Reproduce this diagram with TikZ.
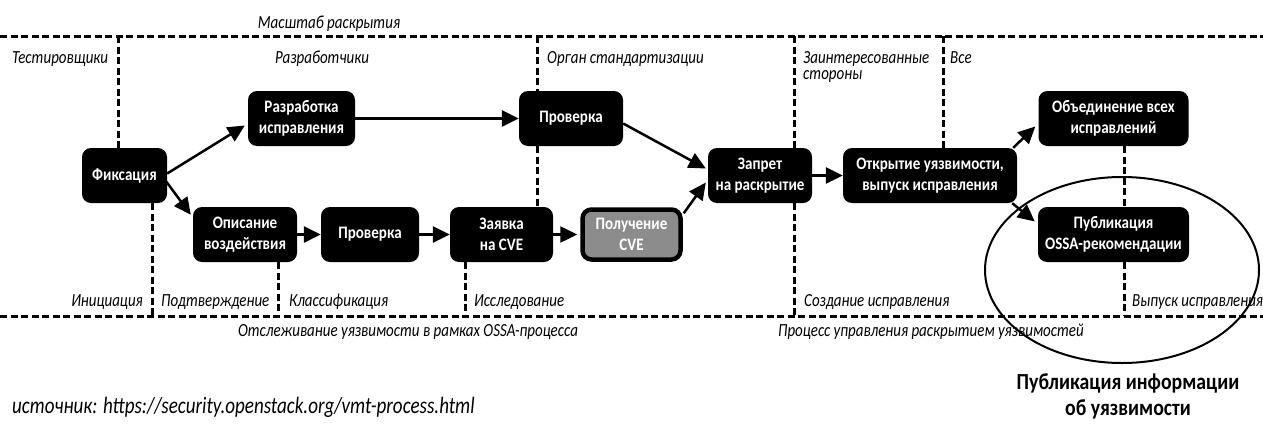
\documentclass[tikz,border=0pt]{standalone}
\usepackage{fontspec}
\setmainfont{Carlito}
\newfontfamily\labfont{Carlito}[FakeStretch=0.81]
\newfontfamily\boxfont{Carlito}[FakeStretch=0.86]
\usetikzlibrary{arrows.meta,calc}
\tikzset{
  procbox/.style={rounded corners=9pt, fill=black, text=white, align=center,
    font=\boxfont\bfseries\fontsize{17.5}{21}\selectfont, inner sep=0pt, minimum height=55pt},
  graybox/.style={procbox, fill=black!45, draw=black, line width=4.5pt},
  arr/.style={-{Triangle[length=17pt,width=16pt]}, line width=2.5pt},
  dl/.style={line width=3pt, dash pattern=on 7pt off 3.5pt},
  lab/.style={font=\labfont\itshape\fontsize{18.5}{16}\selectfont, inner sep=0pt},
}
\begin{document}
\begin{tikzpicture}[x=1pt,y=-1pt]
\useasboundingbox (0,0) rectangle (1263,423);
% boxes
\node[procbox, minimum width=85pt]  (fix)    at (124.5,175.5) {Фиксация};
\node[procbox, minimum width=107pt] (raz)    at (301.5,118.5) {Разработка\\исправления};
\node[procbox, minimum width=104pt] (opis)   at (245,234.5) {Описание\\воздействия};
\node[procbox, minimum width=98pt]  (prov2)  at (370,234.5) {Проверка};
\node[procbox, minimum width=103pt] (zay)    at (501.5,234.5) {Заявка\\на CVE};
\node[graybox, minimum width=98pt, minimum height=50pt] (poluch) at (631.5,234.5) {Получение\\CVE};
\node[procbox, minimum width=104pt] (prov1)  at (571,118.5) {Проверка};
\node[procbox, minimum width=104pt] (zap)    at (760,175.5) {Запрет\\на раскрытие};
\node[procbox, minimum width=174pt] (otk)    at (930,175.5) {Открытие уязвимости,\\выпуск исправления};
\node[procbox, minimum width=150pt] (obj)    at (1113.5,118.5) {Объединение всех\\исправлений};
\node[procbox, minimum width=151pt] (pub)    at (1113.5,234.5) {Публикация\\OSSA-рекомендации};
% dashed frame lines
\coordinate (tl) at (0,36);   \coordinate (tr) at (1263,36);
\coordinate (bl) at (0,316);  \coordinate (br) at (1263,316);
\draw[dl] (tl) -- (tr);
\draw[dl] (bl) -- (br);
\coordinate (t1) at (118,36);
\coordinate (t2) at (537,36);
\coordinate (t3) at (794,36);
\coordinate (t4) at (943,36);
\coordinate (b1) at (152,316);
\coordinate (b2) at (278,316);
\coordinate (b3) at (465,316);
\coordinate (b4) at (794,316);
\coordinate (b5) at (1124,316);
\draw[dl] (t1) -- (t1 |- fix.north);
\draw[dl] (t2) -- (t2 |- prov1.north);
\draw[dl] (t2 |- prov1.south) -- (t2 |- zay.north);
\draw[dl] (t3) -- (t3 |- zap.north);
\draw[dl] (t4) -- (t4 |- otk.north);
\draw[dl] (b1 |- fix.south) -- (b1);
\draw[dl] (b2 |- opis.south) -- (b2);
\draw[dl] (b3 |- zay.south) -- (b3);
\draw[dl] (b4 |- zap.south) -- (b4);
\draw[dl] (b5 |- obj.south) -- (b5 |- pub.north);
\draw[dl] (b5 |- pub.south) -- (b5);
% arrows
\draw[arr] ([yshift=2pt]fix.east) -- ([xshift=-3pt,yshift=-7pt]raz.west);
\draw[arr] ([xshift=-1pt,yshift=-6pt]fix.east) -- ([xshift=-2pt,yshift=-8pt]opis.north west);
\draw[arr] (raz.east) -- (prov1.west);
\draw[arr] ([yshift=-5pt]prov1.east) -- ([xshift=-2pt,yshift=7pt]zap.west);
\draw[arr] (opis.east) -- (prov2.west);
\draw[arr] (prov2.east) -- (zay.west);
\draw[arr] (zay.east) -- ([xshift=-3pt]poluch.west);
\draw[arr] ([xshift=1pt,yshift=-6pt]poluch.north east) -- ([xshift=-2pt,yshift=-7pt]zap.west);
\draw[arr] (zap.east) -- (otk.west);
\draw[arr] ([xshift=-4pt]otk.north east) -- ([xshift=-3pt,yshift=-8pt]obj.west);
\draw[arr] ([xshift=-5pt]otk.south east) -- ([xshift=-3pt,yshift=13pt]pub.west);
% ellipse
\draw[line width=2pt] (1122,270) ellipse [x radius=137, y radius=93];
% labels
\node[lab, anchor=base] (l0) at (329,28) {Масштаб раскрытия};
\node[lab, anchor=base west] (l1) at (12,63) {Тестировщики};
\node[lab, anchor=base] (l2) at (322,63) {Разработчики};
\node[lab, anchor=base west] (l3) at (547,63) {Орган стандартизации};
\node[lab, anchor=north west, align=left] (l4) at (803,51) {Заинтересованные\\стороны};
\node[lab, anchor=base west] (l5) at (950,63) {Все};
\node[lab, anchor=base east] (m1) at (143,306) {Инициация};
\node[lab, anchor=base west] (m2) at (161,306) {Подтверждение};
\node[lab, anchor=base west] (m3) at (289,306) {Классификация};
\node[lab, anchor=base west] (m4) at (474,306) {Исследование};
\node[lab, anchor=base west] (m5) at (804,306) {Создание исправления};
\node[lab, anchor=base west] (m6) at (1132,306) {Выпуск исправления};
\node[lab, anchor=base] (n1) at (408,336) {Отслеживание уязвимости в рамках OSSA-процесса};
\node[lab, anchor=base west] (n2) at (778,336) {Процесс управления раскрытием уязвимостей};
\node[font=\labfont\itshape\fontsize{23.5}{26}\selectfont, anchor=base west, inner sep=0pt] (src) at (12,413) {источник: https://security.openstack.org/vmt-process.html};
\node[font=\boxfont\bfseries\fontsize{23}{26}\selectfont, align=center, inner sep=0pt, anchor=north] (pubinfo) at (1128,373) {Публикация информации\\об уязвимости};
\end{tikzpicture}
\end{document}
